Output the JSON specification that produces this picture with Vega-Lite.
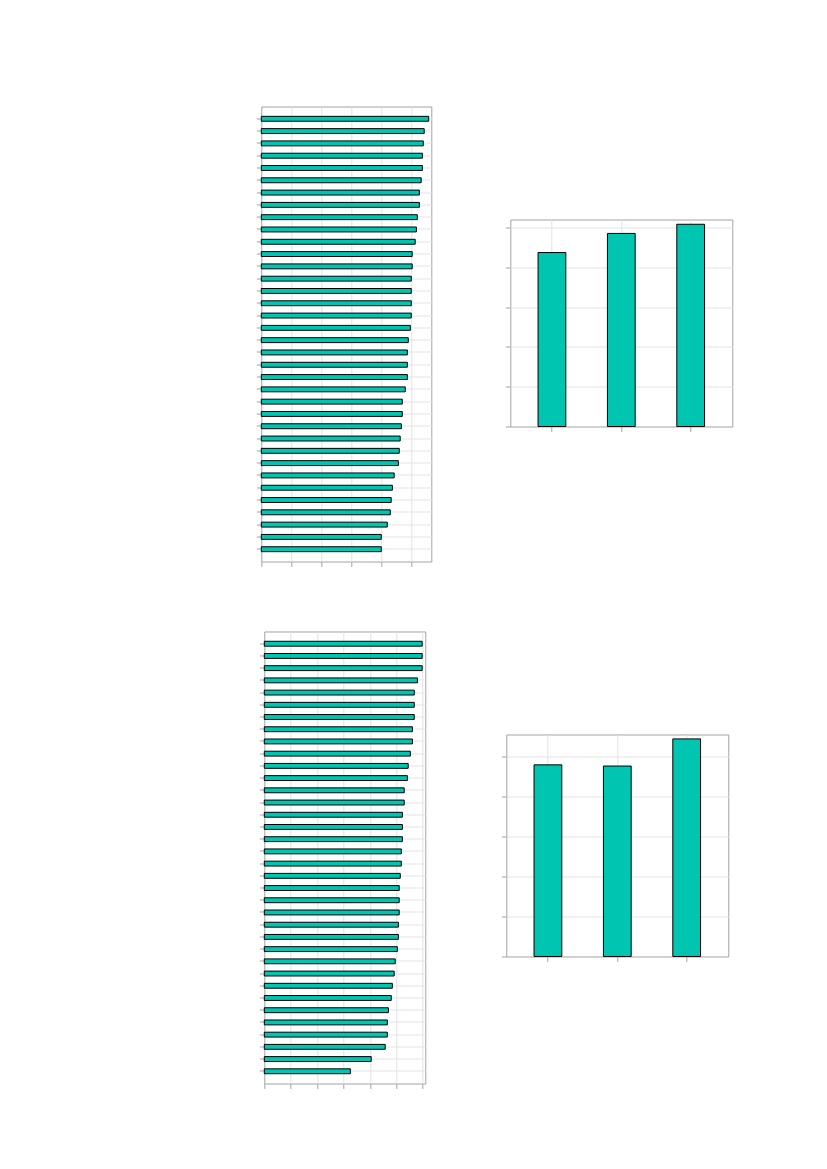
{
  "$schema": "https://vega.github.io/schema/vega-lite/v6.json",
  "background": "white",
  "padding": {"left": 255.3, "top": 105.5, "right": 5, "bottom": 5},
  "datasets": {
    "tl": [
      {"item": "01", "value": 5.58}, {"item": "02", "value": 5.43}, {"item": "03", "value": 5.40},
      {"item": "04", "value": 5.37}, {"item": "05", "value": 5.37}, {"item": "06", "value": 5.33},
      {"item": "07", "value": 5.27}, {"item": "08", "value": 5.27}, {"item": "09", "value": 5.20},
      {"item": "10", "value": 5.17}, {"item": "11", "value": 5.13}, {"item": "12", "value": 5.03},
      {"item": "13", "value": 5.03}, {"item": "14", "value": 5.00}, {"item": "15", "value": 5.00},
      {"item": "16", "value": 5.00}, {"item": "17", "value": 5.00}, {"item": "18", "value": 4.97},
      {"item": "19", "value": 4.90}, {"item": "20", "value": 4.87}, {"item": "21", "value": 4.87},
      {"item": "22", "value": 4.87}, {"item": "23", "value": 4.80}, {"item": "24", "value": 4.70},
      {"item": "25", "value": 4.70}, {"item": "26", "value": 4.67}, {"item": "27", "value": 4.63},
      {"item": "28", "value": 4.60}, {"item": "29", "value": 4.57}, {"item": "30", "value": 4.43},
      {"item": "31", "value": 4.37}, {"item": "32", "value": 4.33}, {"item": "33", "value": 4.30},
      {"item": "34", "value": 4.20}, {"item": "35", "value": 4.00}, {"item": "36", "value": 4.00}
    ],
    "tr": [
      {"group": "1", "value": 4.37}, {"group": "2", "value": 4.85}, {"group": "3", "value": 5.08}
    ],
    "bl": [
      {"item": "01", "value": 5.98}, {"item": "02", "value": 5.98}, {"item": "03", "value": 5.98},
      {"item": "04", "value": 5.80}, {"item": "05", "value": 5.68}, {"item": "06", "value": 5.68},
      {"item": "07", "value": 5.68}, {"item": "08", "value": 5.61}, {"item": "09", "value": 5.61},
      {"item": "10", "value": 5.53}, {"item": "11", "value": 5.45}, {"item": "12", "value": 5.42},
      {"item": "13", "value": 5.30}, {"item": "14", "value": 5.30}, {"item": "15", "value": 5.23},
      {"item": "16", "value": 5.23}, {"item": "17", "value": 5.23}, {"item": "18", "value": 5.19},
      {"item": "19", "value": 5.19}, {"item": "20", "value": 5.15}, {"item": "21", "value": 5.11},
      {"item": "22", "value": 5.11}, {"item": "23", "value": 5.11}, {"item": "24", "value": 5.08},
      {"item": "25", "value": 5.08}, {"item": "26", "value": 5.04}, {"item": "27", "value": 4.96},
      {"item": "28", "value": 4.92}, {"item": "29", "value": 4.85}, {"item": "30", "value": 4.81},
      {"item": "31", "value": 4.70}, {"item": "32", "value": 4.66}, {"item": "33", "value": 4.66},
      {"item": "34", "value": 4.58}, {"item": "35", "value": 4.05}, {"item": "36", "value": 3.26}
    ],
    "br": [
      {"group": "1", "value": 4.80}, {"group": "2", "value": 4.77}, {"group": "3", "value": 5.45}
    ]
  },
  "config": {
    "axis": {
      "labels": false,
      "domain": false,
      "ticks": true,
      "tickSize": 5,
      "tickWidth": 1,
      "tickColor": "#a3a3a3",
      "grid": true,
      "gridColor": "#e3e3e3",
      "gridWidth": 1
    },
    "view": {"stroke": null}
  },
  "spacing": 63,
  "vconcat": [
    {
      "spacing": 72,
      "hconcat": [
        {
          "data": {"name": "tl"},
          "width": 170,
          "height": 455,
          "view": {"stroke": "#a3a3a3", "strokeWidth": 1},
          "mark": {"type": "bar", "fill": "#00C5B0", "stroke": "black", "strokeWidth": 1},
          "encoding": {
            "y": {"field": "item", "type": "nominal", "sort": null, "title": null,
                  "scale": {"paddingInner": 0.6, "paddingOuter": 0.8},
                  "axis": {"bandPosition": 0.5, "grid": true}},
            "x": {"field": "value", "type": "quantitative", "title": null,
                  "scale": {"domain": [0, 5.667], "nice": false},
                  "axis": {"values": [0, 1, 2, 3, 4, 5],
                           "gridOpacity": {"condition": {"test": "datum.value === 0", "value": 0}, "value": 1}}}
          }
        },
        {
          "spacing": 0,
          "vconcat": [
            {"data": {"values": []}, "mark": "point", "width": 1, "height": 111.5, "view": {"stroke": null}},
            {
              "data": {"name": "tr"},
              "width": 222,
              "height": 207,
              "view": {"stroke": "#a3a3a3", "strokeWidth": 1},
              "mark": {"type": "bar", "fill": "#00C5B0", "stroke": "black", "strokeWidth": 1},
              "encoding": {
                "x": {"field": "group", "type": "nominal", "sort": null, "title": null,
                      "scale": {"paddingInner": 0.6, "paddingOuter": 0.4},
                      "axis": {"bandPosition": 0.5, "grid": true}},
                "y": {"field": "value", "type": "quantitative", "title": null,
                      "scale": {"domain": [0, 5.2], "nice": false},
                      "axis": {"values": [0, 1, 2, 3, 4, 5],
                               "gridOpacity": {"condition": {"test": "datum.value === 0", "value": 0}, "value": 1}}}
              }
            }
          ]
        }
      ]
    },
    {
      "spacing": -4,
      "hconcat": [
        {"data": {"values": []}, "mark": "point", "width": 1, "height": 1, "view": {"stroke": null}},
        {
          "spacing": 74,
          "hconcat": [
            {
              "data": {"name": "bl"},
              "width": 161,
              "height": 452,
              "view": {"stroke": "#a3a3a3", "strokeWidth": 1},
              "mark": {"type": "bar", "fill": "#00C5B0", "stroke": "black", "strokeWidth": 1},
              "encoding": {
                "y": {"field": "item", "type": "nominal", "sort": null, "title": null,
                      "scale": {"paddingInner": 0.6, "paddingOuter": 0.8},
                      "axis": {"bandPosition": 0.5, "grid": true}},
                "x": {"field": "value", "type": "quantitative", "title": null,
                      "scale": {"domain": [0, 6.098], "nice": false},
                      "axis": {"values": [0, 1, 2, 3, 4, 5, 6],
                               "gridOpacity": {"condition": {"test": "datum.value === 0", "value": 0}, "value": 1}}}
              }
            },
            {
              "spacing": 0,
              "vconcat": [
                {"data": {"values": []}, "mark": "point", "width": 1, "height": 102, "view": {"stroke": null}},
                {
                  "data": {"name": "br"},
                  "width": 222,
                  "height": 222,
                  "view": {"stroke": "#a3a3a3", "strokeWidth": 1},
                  "mark": {"type": "bar", "fill": "#00C5B0", "stroke": "black", "strokeWidth": 1},
                  "encoding": {
                    "x": {"field": "group", "type": "nominal", "sort": null, "title": null,
                          "scale": {"paddingInner": 0.6, "paddingOuter": 0.4},
                          "axis": {"bandPosition": 0.5, "grid": true}},
                    "y": {"field": "value", "type": "quantitative", "title": null,
                          "scale": {"domain": [0, 5.56], "nice": false},
                          "axis": {"values": [0, 1, 2, 3, 4, 5],
                                   "gridOpacity": {"condition": {"test": "datum.value === 0", "value": 0}, "value": 1}}}
                  }
                }
              ]
            }
          ]
        }
      ]
    }
  ]
}
